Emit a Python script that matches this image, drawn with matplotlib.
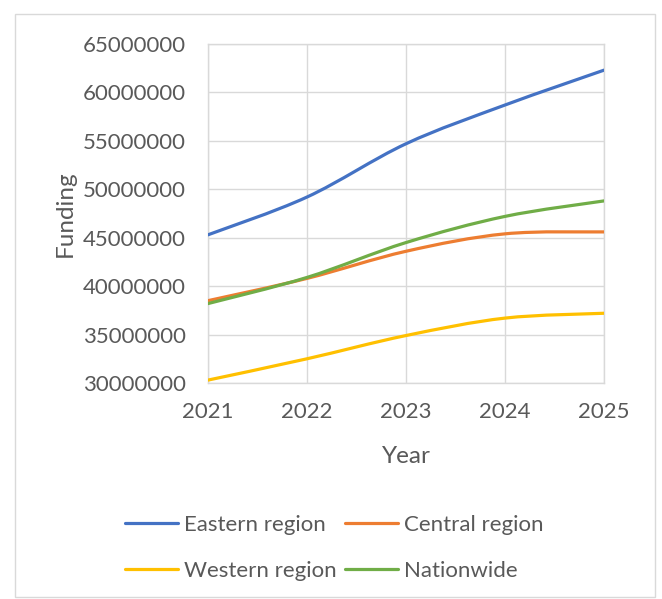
import matplotlib
matplotlib.use("Agg")
import matplotlib.pyplot as plt
from matplotlib.path import Path
from matplotlib.patches import PathPatch, Rectangle
from matplotlib.lines import Line2D
import numpy as np

years = [2021, 2022, 2023, 2024, 2025]
eastern = [45300000, 49200000, 54700000, 58700000, 62300000]
central = [38500000, 40800000, 43600000, 45400000, 45600000]
western = [30300000, 32500000, 34900000, 36700000, 37200000]
nationwide = [38200000, 40900000, 44500000, 47200000, 48800000]

series_names = ["Eastern region", "Central region", "Western region", "Nationwide"]
series_vals = [eastern, central, western, nationwide]
colors = ["#4472C4", "#ED7D31", "#FFC000", "#70AD47"]

yticks = list(range(30000000, 65000001, 5000000))

plt.rcParams['font.family'] = ['Lato', 'DejaVu Sans']
txt = "#595959"

fig = plt.figure(figsize=(6.62, 5.99), dpi=100)
ax = fig.add_axes([208/662, 1-383/599, (604-208)/662, (383-44)/599])

def smooth_path(xs, ys):
    P = np.column_stack([xs, ys]).astype(float)
    n = len(P)
    verts = [P[0]]
    codes = [Path.MOVETO]
    for i in range(n-1):
        p0 = P[i-1] if i > 0 else P[i]
        p1 = P[i]
        p2 = P[i+1]
        p3 = P[i+2] if i+2 < n else P[i+1]
        c1 = p1 + (p2 - p0) / 6.0
        c2 = p2 - (p3 - p1) / 6.0
        verts += [c1, c2, p2]
        codes += [Path.CURVE4]*3
    return Path(verts, codes)

handles = []
for name, vals, c in zip(series_names, series_vals, colors):
    patch = PathPatch(smooth_path(years, vals), facecolor='none', edgecolor=c,
                      lw=2.3, capstyle='round', joinstyle='round', zorder=3)
    ax.add_patch(patch)
    handles.append(Line2D([], [], color=c, lw=2.3, solid_capstyle='round', label=name))

ax.set_xlim(2021, 2025)
ax.set_ylim(30000000, 65000000)
ax.set_xticks(years)
ax.set_xticklabels([str(y) for y in years])
ax.set_yticks(yticks)
ax.set_yticklabels([str(v) for v in yticks])
ax.grid(True, color="#D9D9D9", lw=1.0, zorder=0)
for s in ax.spines.values():
    s.set_color("#D9D9D9")
    s.set_linewidth(1.0)
ax.tick_params(length=0, labelsize=16, colors=txt)
ax.tick_params(axis='y', pad=16)
ax.tick_params(axis='x', pad=14)
ax.set_xlabel("Year", fontsize=17.5, color=txt, labelpad=17)
ax.set_ylabel("Funding", fontsize=17.5, color=txt, labelpad=5)

order = [0, 2, 1, 3]
fig.legend([handles[i] for i in order], [series_names[i] for i in order],
           ncol=2, loc='center', bbox_to_anchor=(334/662, 1-548/599),
           frameon=False, fontsize=16, labelcolor=txt, handlelength=2.4,
           handletextpad=0.27, columnspacing=0.36, labelspacing=1.15)

fig.patches.append(Rectangle((15/662, 1-597/599), 640/662, 583/599,
                             transform=fig.transFigure, fill=False,
                             edgecolor="#D9D9D9", lw=1.0))

fig.savefig("out.png", dpi=100)
